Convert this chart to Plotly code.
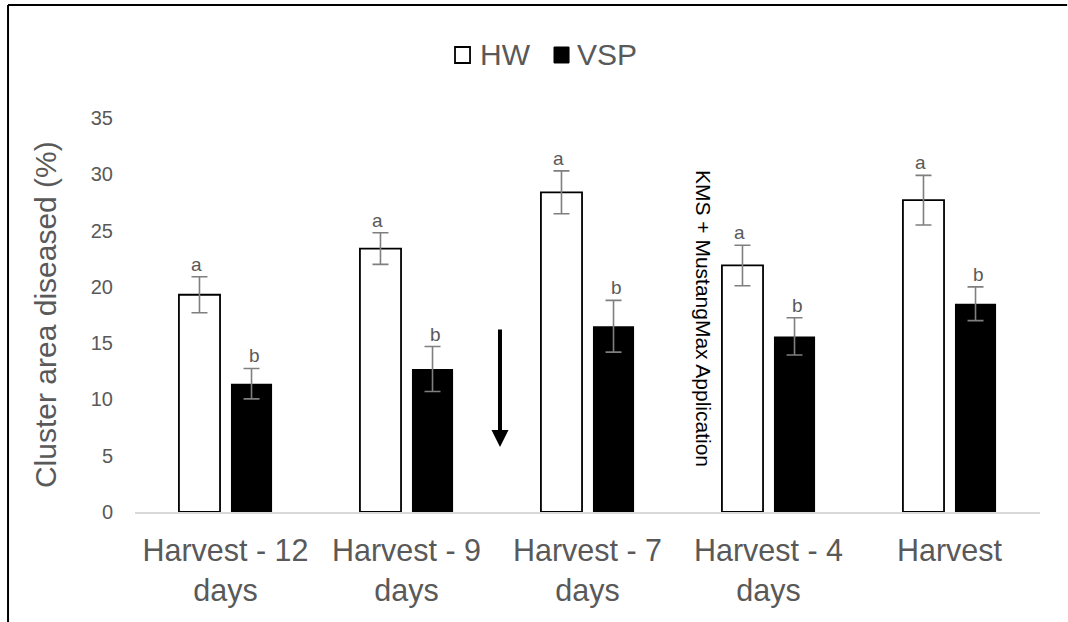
import plotly.graph_objects as go

# Sampling dates (two-line tick labels)
categories = ["Harvest - 12<br>days", "Harvest - 9<br>days", "Harvest - 7<br>days",
              "Harvest - 4<br>days", "Harvest"]

# Mean cluster area diseased (%) and standard errors
hw_mean = [19.3, 23.4, 28.4, 21.9, 27.7]
hw_err = [1.6, 1.4, 1.9, 1.8, 2.2]
vsp_mean = [11.4, 12.7, 16.5, 15.6, 18.5]
vsp_err = [1.35, 2.0, 2.3, 1.65, 1.5]

# Mean separation letters
hw_letters = ["a", "a", "a", "a", "a"]
vsp_letters = ["b", "b", "b", "b", "b"]

y_ticks = [0, 5, 10, 15, 20, 25, 30, 35]

FONT = "Liberation Sans, Arial, sans-serif"
GREY = "#595959"
ERR = "#7f7f7f"

fig = go.Figure()
fig.add_trace(go.Bar(
    name="HW", x=categories, y=hw_mean, showlegend=False,
    marker=dict(color="white", line=dict(color="black", width=1.8)),
    error_y=dict(type="data", array=hw_err, color=ERR, thickness=1.6, width=8),
))
fig.add_trace(go.Bar(
    name="VSP", x=categories, y=vsp_mean, showlegend=False,
    marker=dict(color="black", line=dict(color="black", width=0)),
    error_y=dict(type="data", array=vsp_err, color=ERR, thickness=1.6, width=8),
))

annotations = []
# letters above the error bars (bar offsets within each group)
for i, cat in enumerate(categories):
    for mean, err, lab, off in ((hw_mean[i], hw_err[i], hw_letters[i], -0.16),
                                (vsp_mean[i], vsp_err[i], vsp_letters[i], 0.16)):
        annotations.append(dict(
            x=i + off, y=mean + err, xref="x", yref="y", text=lab,
            showarrow=False, yanchor="bottom", yshift=0,
            font=dict(family=FONT, size=19, color=GREY),
        ))

# y-axis title
annotations.append(dict(
    x=-0.0994, y=0.5, xref="paper", yref="paper", text="Cluster area diseased (%)",
    textangle=-90, showarrow=False, xanchor="center", yanchor="middle",
    font=dict(family=FONT, size=30, color=GREY),
))

# application note
annotations.append(dict(
    x=0.6276, y=0.49, xref="paper", yref="paper", text="KMS + MustangMax Application",
    textangle=90, showarrow=False, xanchor="center", yanchor="middle",
    font=dict(family=FONT, size=21, color="black"),
))

# downward arrow marking the application
annotations.append(dict(
    x=0.4033, y=0.165, xref="paper", yref="paper", text="",
    showarrow=True, ax=0, ay=-119, axref="pixel", ayref="pixel",
    arrowhead=2, arrowsize=0.85, arrowwidth=4, arrowcolor="black", standoff=0,
))

# legend labels
legend_y = 1.160
for name, tx in (("HW", 0.379), ("VSP", 0.4862)):
    annotations.append(dict(
        x=tx, y=legend_y, xref="paper", yref="paper", text=name, showarrow=False,
        xanchor="left", yanchor="middle", font=dict(family=FONT, size=30, color=GREY),
    ))

shapes = [
    # outer frame: left and top edges
    dict(type="line", xref="paper", yref="paper", x0=-0.1403, x1=-0.1403, y0=1.2868, y1=-0.28,
         line=dict(color="black", width=2)),
    dict(type="line", xref="paper", yref="paper", x0=-0.1403, x1=1.03, y0=1.2868, y1=1.2868,
         line=dict(color="black", width=2)),
    # legend swatches
    dict(type="rect", xref="paper", yref="paper", x0=0.3536, x1=0.3702, y0=1.1396, y1=1.1802,
         fillcolor="white", line=dict(color="black", width=1.8)),
    dict(type="rect", xref="paper", yref="paper", x0=0.4630, x1=0.4796, y0=1.1396, y1=1.1802,
         fillcolor="black", line=dict(color="black", width=1)),
]

fig.update_layout(
    width=1068, height=622,
    margin=dict(l=135, r=28, t=118, b=110),
    paper_bgcolor="white", plot_bgcolor="white",
    barmode="group", bargap=0.425, bargroupgap=0.21,
    showlegend=False,
    xaxis=dict(showgrid=False, showline=True, linecolor="#d9d9d9", linewidth=1.5,
               ticks="outside", ticklen=11, tickcolor="white",
               tickfont=dict(family=FONT, size=30.5, color=GREY), zeroline=False),
    yaxis=dict(range=[0, 35], tickvals=y_ticks, showgrid=False, showline=False,
               zeroline=False, ticks="outside", ticklen=17, tickcolor="white",
               tickfont=dict(family=FONT, size=20, color=GREY)),
    annotations=annotations, shapes=shapes,
)

fig.write_html("out.html")
